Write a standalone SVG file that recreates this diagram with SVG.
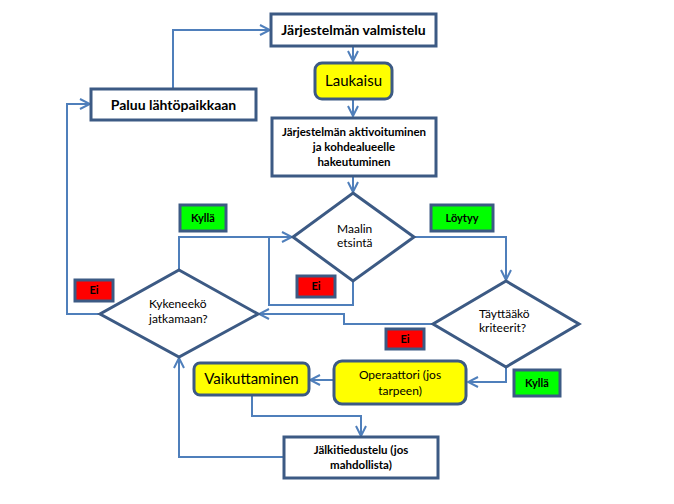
<svg xmlns="http://www.w3.org/2000/svg" width="674" height="504" viewBox="0 0 674 504">
<style>
.box{fill:#fff;stroke:#3c5a84;stroke-width:3}
.yel{fill:#ffff00;stroke:#3c5a84;stroke-width:3}
.dia{fill:#fff;stroke:#3c5a84;stroke-width:3}
.grn{fill:#00ff00;stroke:#3c5a84;stroke-width:3}
.red{fill:#ff0000;stroke:#3c5a84;stroke-width:3}
.con{fill:none;stroke:#4f7fbb;stroke-width:2}
text{font-family:Lato,"Open Sans","Liberation Sans",sans-serif;fill:#000}
.b{font-weight:bold}
</style>
<defs>
<marker id="arr" viewBox="0 0 12 12" refX="11" refY="6" markerWidth="12" markerHeight="12" markerUnits="userSpaceOnUse" orient="auto">
<path d="M1,1 L11,6 L1,11" fill="none" stroke="#4f7fbb" stroke-width="2"/>
</marker>
</defs>
<rect width="674" height="504" fill="#fff"/>
<g id="connectors">
<path class="con" d="M173,89 V30 H270" marker-end="url(#arr)"/>
<path class="con" d="M353,46 V61" marker-end="url(#arr)"/>
<path class="con" d="M353,99 V116" marker-end="url(#arr)"/>
<path class="con" d="M353,176 V192" marker-end="url(#arr)"/>
<path class="con" d="M179,270 V237 H292" marker-end="url(#arr)"/>
<path class="con" d="M353,281 V305 H269 V237"/>
<path class="con" d="M414,237 H506 V280" marker-end="url(#arr)"/>
<path class="con" d="M433,324 H344 V314 H259" marker-end="url(#arr)"/>
<path class="con" d="M100,314 H67 V104 H90" marker-end="url(#arr)"/>
<path class="con" d="M506,367 V382 H468" marker-end="url(#arr)"/>
<path class="con" d="M334,380 H310" marker-end="url(#arr)"/>
<path class="con" d="M252,395 V416 H361 V436" marker-end="url(#arr)"/>
<path class="con" d="M284,457 H179 V358" marker-end="url(#arr)"/>
</g>
<g id="valmistelu"><rect class="box" x="271" y="14" width="165" height="32"/><text class="b" x="353.5" y="35" font-size="14" text-anchor="middle">Järjestelmän valmistelu</text></g>
<g id="laukaisu"><rect class="yel" x="315" y="63" width="77" height="36" rx="7"/><text x="353.5" y="86" font-size="15" text-anchor="middle">Laukaisu</text></g>
<g id="aktivoituminen"><rect class="box" x="272" y="118" width="164" height="58"/><text class="b" font-size="11.5" text-anchor="middle"><tspan x="354" y="136">Järjestelmän aktivoituminen</tspan><tspan x="354" y="151">ja kohdealueelle</tspan><tspan x="354" y="166">hakeutuminen</tspan></text></g>
<g id="paluu"><rect class="box" x="91" y="89" width="165" height="31"/><text class="b" x="173.5" y="110" font-size="14" text-anchor="middle">Paluu lähtöpaikkaan</text></g>
<g id="maalin"><polygon class="dia" points="353,193 414,237 353,281 293,237"/><text font-size="12"><tspan x="337" y="233">Maalin</tspan><tspan x="337" y="247">etsintä</tspan></text></g>
<g id="kykeneeko"><polygon class="dia" points="179,270 258,314 179,357 100,314"/><text font-size="12"><tspan x="149" y="308">Kykeneekö</tspan><tspan x="149" y="323">jatkamaan?</tspan></text></g>
<g id="tayttaako"><polygon class="dia" points="506,281 579,324 506,367 433,324"/><text font-size="12"><tspan x="479" y="318">Täyttääkö</tspan><tspan x="479" y="332">kriteerit?</tspan></text></g>
<g id="operaattori"><rect class="yel" x="334" y="361" width="132" height="43" rx="8"/><text font-size="12" text-anchor="middle"><tspan x="400" y="379">Operaattori (jos</tspan><tspan x="400" y="395">tarpeen)</tspan></text></g>
<g id="vaikuttaminen"><rect class="yel" x="194" y="363" width="115" height="32" rx="6"/><text x="251.5" y="384" font-size="15" text-anchor="middle">Vaikuttaminen</text></g>
<g id="jalkitiedustelu"><rect class="box" x="284" y="437" width="154" height="41"/><text class="b" font-size="11.5" text-anchor="middle"><tspan x="361" y="454">Jälkitiedustelu (jos</tspan><tspan x="361" y="469">mahdollista)</tspan></text></g>
<g id="lbl-kylla1"><rect class="grn" x="180" y="205" width="46" height="26"/><text class="b" x="203" y="222" font-size="11" text-anchor="middle">Kyllä</text></g>
<g id="lbl-loytyy"><rect class="grn" x="431" y="205" width="62" height="26"/><text class="b" x="462" y="222" font-size="11" text-anchor="middle">Löytyy</text></g>
<g id="lbl-ei1"><rect class="red" x="297" y="276" width="38" height="21"/><text class="b" x="316" y="290" font-size="11" text-anchor="middle">Ei</text></g>
<g id="lbl-ei2"><rect class="red" x="75" y="280" width="38" height="21"/><text class="b" x="94" y="294" font-size="11" text-anchor="middle">Ei</text></g>
<g id="lbl-ei3"><rect class="red" x="386" y="329" width="38" height="20"/><text class="b" x="405" y="343" font-size="11" text-anchor="middle">Ei</text></g>
<g id="lbl-kylla2"><rect class="grn" x="514" y="370" width="46" height="26"/><text class="b" x="537" y="387" font-size="11" text-anchor="middle">Kyllä</text></g>
</svg>
